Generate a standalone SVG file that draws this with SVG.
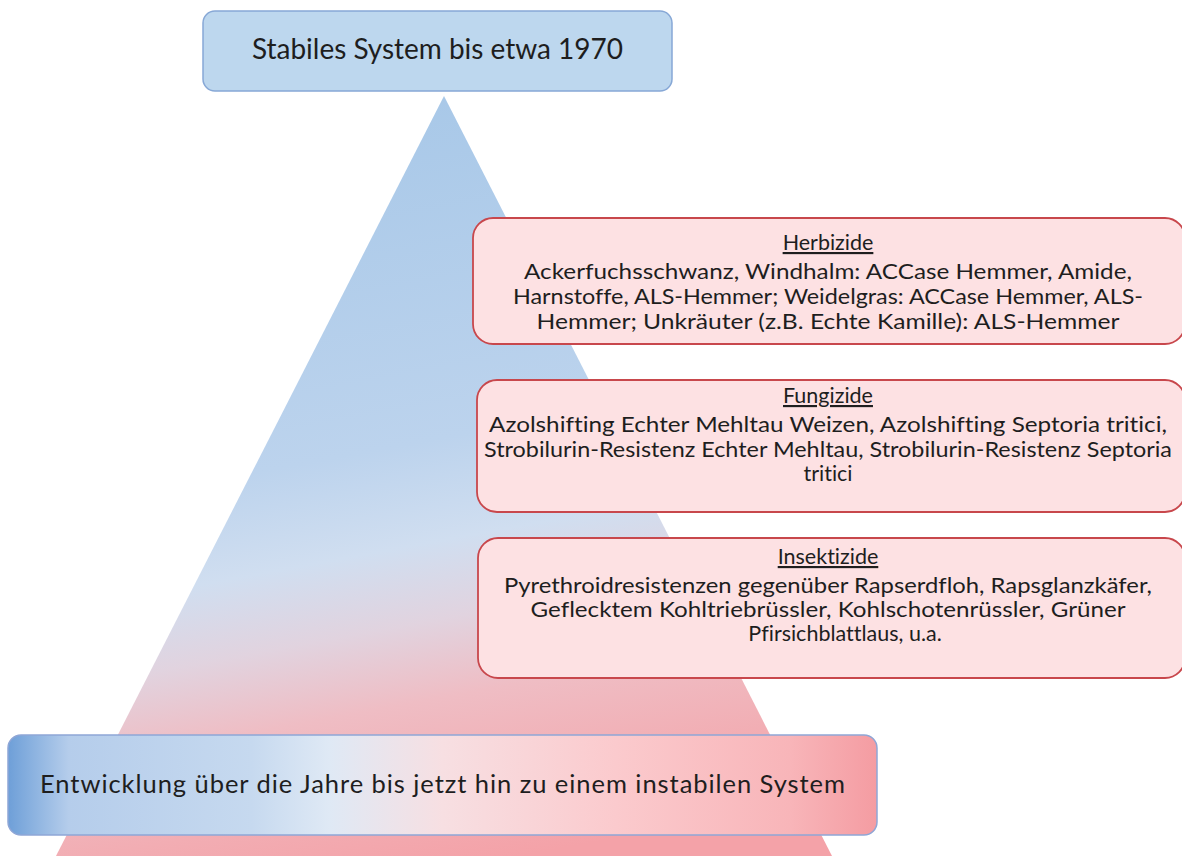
<svg xmlns="http://www.w3.org/2000/svg" width="1182" height="856" viewBox="0 0 1182 856">
  <defs>
    <linearGradient id="triGrad" gradientUnits="userSpaceOnUse" x1="380" y1="96" x2="520" y2="856">
      <stop offset="0" stop-color="#a8c8e8"/>
      <stop offset="0.45" stop-color="#bcd3ed"/>
      <stop offset="0.58" stop-color="#d0def0"/>
      <stop offset="0.68" stop-color="#e1d3df"/>
      <stop offset="0.78" stop-color="#efbdc4"/>
      <stop offset="0.9" stop-color="#f2adb3"/>
      <stop offset="1" stop-color="#f4a2a8"/>
    </linearGradient>
    <linearGradient id="bottomGrad" x1="0" y1="0" x2="1" y2="0">
      <stop offset="0" stop-color="#6e9fd8"/>
      <stop offset="0.07" stop-color="#b5cdeb"/>
      <stop offset="0.28" stop-color="#c6d9ef"/>
      <stop offset="0.37" stop-color="#dfe9f5"/>
      <stop offset="0.5" stop-color="#f7dfe2"/>
      <stop offset="0.7" stop-color="#fbcacd"/>
      <stop offset="0.9" stop-color="#f8b5b9"/>
      <stop offset="1" stop-color="#f49ca2"/>
    </linearGradient>
  </defs>
  <style>
    .txt { font-family: Lato, "Liberation Sans", sans-serif; fill: #1e1e1e; font-variant-ligatures: none; }
    .blue { fill: #bdd7ee; stroke: #87a8d6; stroke-width: 1.5; }
    .pink { fill: #fde1e3; stroke: #c8474c; stroke-width: 1.8; }
    .title { font-size: 21.5px; text-anchor: middle; text-decoration: underline; }
    .body { font-size: 21.5px; text-anchor: middle; }
  </style>
  <rect width="1182" height="856" fill="#ffffff"/>

  <g id="triangle">
    <polygon points="444,96 56,856 832,856" fill="url(#triGrad)"/>
  </g>

  <g id="connectors"></g>

  <g id="top">
    <rect class="blue" x="203" y="11" width="469" height="80" rx="12"/>
    <text class="txt" x="437.5" y="59" font-size="28" text-anchor="middle" textLength="371">Stabiles System bis etwa 1970</text>
  </g>

  <g id="herbizide">
    <rect class="pink" x="473" y="218" width="712" height="126" rx="20"/>
    <text class="txt title" x="828" y="250">Herbizide</text>
    <text class="txt body" x="828" y="279" textLength="608" lengthAdjust="spacingAndGlyphs">Ackerfuchsschwanz, Windhalm: ACCase Hemmer, Amide,</text>
    <text class="txt body" x="828" y="304" textLength="630" lengthAdjust="spacingAndGlyphs">Harnstoffe, ALS-Hemmer; Weidelgras: ACCase Hemmer, ALS-</text>
    <text class="txt body" x="828" y="329" textLength="583" lengthAdjust="spacingAndGlyphs">Hemmer; Unkräuter (z.B. Echte Kamille): ALS-Hemmer</text>
  </g>

  <g id="fungizide">
    <rect class="pink" x="477" y="380" width="708" height="132" rx="20"/>
    <text class="txt title" x="828" y="403">Fungizide</text>
    <text class="txt body" x="828" y="432" textLength="678" lengthAdjust="spacingAndGlyphs">Azolshifting Echter Mehltau Weizen, Azolshifting Septoria tritici,</text>
    <text class="txt body" x="828" y="457" textLength="688" lengthAdjust="spacingAndGlyphs">Strobilurin-Resistenz Echter Mehltau, Strobilurin-Resistenz Septoria</text>
    <text class="txt body" x="828" y="481">tritici</text>
  </g>

  <g id="insektizide">
    <rect class="pink" x="478" y="538" width="707" height="140" rx="20"/>
    <text class="txt title" x="828" y="564">Insektizide</text>
    <text class="txt body" x="828" y="593" textLength="648" lengthAdjust="spacingAndGlyphs">Pyrethroidresistenzen gegenüber Rapserdfloh, Rapsglanzkäfer,</text>
    <text class="txt body" x="828" y="617" textLength="595" lengthAdjust="spacingAndGlyphs">Geflecktem Kohltriebrüssler, Kohlschotenrüssler, Grüner</text>
    <text class="txt body" x="845" y="641">Pfirsichblattlaus, u.a.</text>
  </g>

  <g id="bottom">
    <rect x="8" y="735" width="869" height="100" rx="13" fill="url(#bottomGrad)" stroke="#8fa6d6" stroke-width="1.5"/>
    <text class="txt" x="442.5" y="793" font-size="25.5" text-anchor="middle" textLength="805">Entwicklung über die Jahre bis jetzt hin zu einem instabilen System</text>
  </g>
</svg>
